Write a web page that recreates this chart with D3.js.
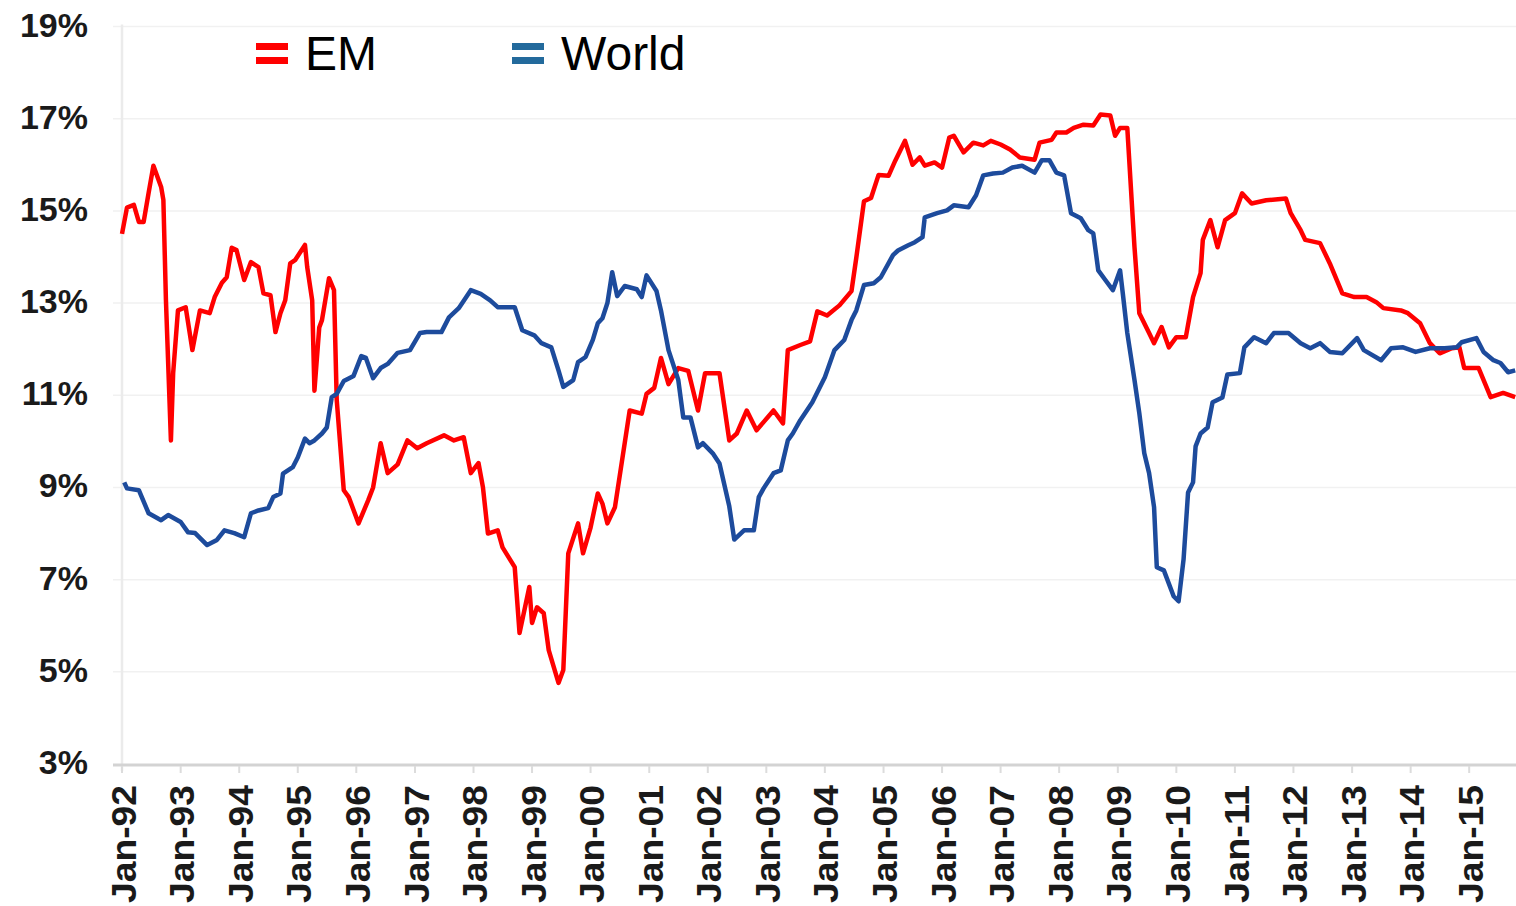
<!DOCTYPE html>
<html>
<head>
<meta charset="utf-8">
<script src="https://cdn.jsdelivr.net/npm/d3@7"></script>
<style>
  html, body { margin: 0; padding: 0; background: #fff; }
  svg { display: block; font-family: "Liberation Sans", Arial, sans-serif; }
</style>
</head>
<body>
<svg id="chart" width="1516" height="906"></svg>
<script>
// EM series (one line per year)
const emDates = [
    "1992-01-01", "1992-02-01", "1992-03-15", "1992-04-15", "1992-05-15", "1992-06-15", "1992-07-15", "1992-09-01", "1992-09-15", "1992-10-01", "1992-11-01", "1992-11-15", "1992-12-15",
    "1993-02-01", "1993-03-15", "1993-05-01", "1993-07-01", "1993-08-01", "1993-09-15", "1993-10-15", "1993-11-15", "1993-12-15",
    "1994-02-01", "1994-03-15", "1994-05-01", "1994-06-01", "1994-07-15", "1994-08-15", "1994-09-15", "1994-10-15", "1994-11-15", "1994-12-15",
    "1995-02-15", "1995-03-01", "1995-04-01", "1995-04-15", "1995-05-15", "1995-06-01", "1995-07-15", "1995-08-15", "1995-09-01", "1995-10-15", "1995-11-15",
    "1996-01-15", "1996-03-15", "1996-04-15", "1996-06-01", "1996-07-15", "1996-09-15", "1996-11-15",
    "1997-01-15", "1997-03-15", "1997-07-01", "1997-09-01", "1997-11-01", "1997-12-15",
    "1998-02-01", "1998-03-01", "1998-04-01", "1998-06-01", "1998-07-01", "1998-09-15", "1998-10-15", "1998-12-15",
    "1999-01-01", "1999-02-01", "1999-03-15", "1999-04-15", "1999-06-15", "1999-07-15", "1999-08-15", "1999-10-15", "1999-11-15",
    "2000-01-01", "2000-02-15", "2000-03-15", "2000-04-15", "2000-06-01", "2000-09-01", "2000-11-15", "2000-12-15",
    "2001-02-01", "2001-03-15", "2001-05-01", "2001-07-01", "2001-09-01", "2001-11-01", "2001-12-15",
    "2002-03-15", "2002-05-15", "2002-07-01", "2002-09-01", "2002-11-01",
    "2003-02-15", "2003-04-15", "2003-05-15", "2003-08-01", "2003-10-01", "2003-11-15",
    "2004-01-15", "2004-04-01", "2004-06-15", "2004-07-15", "2004-09-01", "2004-10-15", "2004-12-01",
    "2005-02-01", "2005-03-15", "2005-05-15", "2005-07-01", "2005-08-15", "2005-09-15", "2005-11-15",
    "2006-01-01", "2006-02-15", "2006-03-15", "2006-05-15", "2006-07-15", "2006-09-15", "2006-11-01",
    "2007-01-01", "2007-03-01", "2007-05-01", "2007-08-01", "2007-09-01", "2007-11-15", "2007-12-15",
    "2008-02-15", "2008-04-01", "2008-06-01", "2008-08-01", "2008-09-15", "2008-11-15", "2008-12-15",
    "2009-01-15", "2009-03-01", "2009-04-15", "2009-05-15", "2009-07-15", "2009-08-15", "2009-10-01", "2009-11-15",
    "2010-01-01", "2010-03-01", "2010-04-15", "2010-06-01", "2010-06-15", "2010-08-01", "2010-09-15", "2010-11-01",
    "2011-01-01", "2011-02-15", "2011-04-15", "2011-07-15", "2011-11-15", "2011-12-15",
    "2012-02-15", "2012-03-15", "2012-06-15", "2012-08-15", "2012-11-01",
    "2013-01-15", "2013-04-01", "2013-06-01", "2013-07-15", "2013-11-01", "2013-12-15",
    "2014-03-01", "2014-05-01", "2014-07-01", "2014-09-15", "2014-11-01", "2014-12-01",
    "2015-03-01", "2015-05-15", "2015-08-01", "2015-10-15"
];
const emValues = [
    14.5, 15.07, 15.13, 14.76, 14.76, 15.39, 15.98, 15.52, 15.24, 13.06, 10.02, 11.48, 12.84,
    12.91, 11.98, 12.84, 12.78, 13.13, 13.44, 13.56, 14.2, 14.15,
    13.5, 13.89, 13.78, 13.21, 13.17, 12.37, 12.78, 13.06, 13.86, 13.93,
    14.26, 13.78, 13.06, 11.1, 12.47, 12.63, 13.54, 13.28, 10.9, 8.94, 8.79,
    8.22, 8.72, 9.0, 9.96, 9.31, 9.5, 10.02,
    9.85, 9.96, 10.13, 10.02, 10.09, 9.31,
    9.53, 9.0, 8.0, 8.07, 7.7, 7.27, 5.84, 6.84,
    6.06, 6.4, 6.27, 5.47, 4.76, 5.04, 7.57, 8.22, 7.57,
    8.13, 8.87, 8.65, 8.22, 8.57, 10.67, 10.6, 11.03,
    11.16, 11.81, 11.24, 11.59, 11.53, 10.67, 11.48,
    11.48, 10.02, 10.17, 10.67, 10.24,
    10.67, 10.39, 11.98, 12.09, 12.17, 12.82,
    12.73, 12.95, 13.26, 13.98, 15.21, 15.28, 15.78,
    15.76, 16.09, 16.52, 16.0, 16.16, 15.98, 16.05,
    15.94, 16.59, 16.63, 16.27, 16.48, 16.42, 16.52,
    16.44, 16.33, 16.16, 16.11, 16.48, 16.54, 16.7,
    16.7, 16.8, 16.87, 16.85, 17.09, 17.07, 16.63,
    16.8, 16.8, 14.21, 12.78, 12.35, 12.13, 12.48, 12.04,
    12.26, 12.26, 13.13, 13.65, 14.37, 14.8, 14.21, 14.8,
    14.95, 15.38, 15.16, 15.23, 15.27, 14.95,
    14.58, 14.37, 14.3, 13.86, 13.21,
    13.13, 13.13, 13.02, 12.89, 12.84, 12.78,
    12.56, 12.13, 11.91, 12.02, 12.04, 11.59,
    11.59, 10.96, 11.05, 10.96
];

// World series
const worldDates = [
    "1992-01-15", "1992-02-01", "1992-04-15", "1992-06-15", "1992-09-01", "1992-10-15",
    "1993-01-01", "1993-02-15", "1993-04-01", "1993-06-15", "1993-08-15", "1993-10-01", "1993-12-01",
    "1994-02-01", "1994-03-15", "1994-05-01", "1994-07-01", "1994-08-01", "1994-09-15", "1994-10-01", "1994-12-01",
    "1995-01-01", "1995-02-15", "1995-03-15", "1995-04-15", "1995-06-01", "1995-07-01", "1995-08-01", "1995-09-01", "1995-10-15", "1995-12-15",
    "1996-02-01", "1996-03-01", "1996-04-15", "1996-06-01", "1996-07-15", "1996-09-15", "1996-12-01",
    "1997-02-01", "1997-03-15", "1997-06-15", "1997-08-01", "1997-10-01", "1997-12-15",
    "1998-02-15", "1998-04-15", "1998-06-01", "1998-09-15", "1998-11-01",
    "1999-01-15", "1999-03-01", "1999-05-01", "1999-06-15", "1999-07-15", "1999-09-15", "1999-10-15", "1999-12-01",
    "2000-01-15", "2000-02-15", "2000-03-15", "2000-04-15", "2000-05-15", "2000-06-15", "2000-08-01", "2000-10-15", "2000-11-15", "2000-12-15",
    "2001-02-15", "2001-03-15", "2001-05-01", "2001-07-01", "2001-08-01", "2001-09-15", "2001-11-01", "2001-12-01",
    "2002-02-01", "2002-03-15", "2002-05-15", "2002-06-15", "2002-08-15", "2002-10-15", "2002-11-15", "2002-12-15",
    "2003-02-15", "2003-04-01", "2003-05-15", "2003-06-15", "2003-08-01", "2003-10-15",
    "2004-01-01", "2004-03-01", "2004-05-01", "2004-06-15", "2004-07-15", "2004-09-01", "2004-11-01", "2004-12-15",
    "2005-03-01", "2005-04-01", "2005-06-01", "2005-07-15", "2005-09-01", "2005-09-15", "2005-12-01",
    "2006-02-01", "2006-03-15", "2006-06-15", "2006-08-01", "2006-09-15", "2006-11-15",
    "2007-01-15", "2007-03-15", "2007-05-15", "2007-08-01", "2007-09-15", "2007-11-01", "2007-12-15",
    "2008-02-01", "2008-03-15", "2008-05-15", "2008-07-01", "2008-08-01", "2008-09-01", "2008-10-15", "2008-12-01",
    "2009-01-15", "2009-02-01", "2009-03-01", "2009-04-15", "2009-05-15", "2009-06-15", "2009-07-15", "2009-08-15", "2009-09-01", "2009-10-15", "2009-12-15",
    "2010-01-15", "2010-02-15", "2010-03-15", "2010-04-15", "2010-05-01", "2010-06-01", "2010-07-15", "2010-08-15", "2010-10-15", "2010-11-15",
    "2011-02-01", "2011-03-01", "2011-05-01", "2011-07-15", "2011-09-01", "2011-12-01",
    "2012-02-15", "2012-04-15", "2012-06-15", "2012-08-15", "2012-11-01",
    "2013-02-01", "2013-03-15", "2013-07-01", "2013-09-01", "2013-11-15",
    "2014-02-01", "2014-05-01", "2014-08-01", "2014-10-15", "2014-11-15",
    "2015-02-15", "2015-04-01", "2015-06-01", "2015-07-15", "2015-09-01", "2015-10-15"
];
const worldValues = [
    9.11, 8.98, 8.94, 8.44, 8.29, 8.4,
    8.25, 8.03, 8.01, 7.75, 7.86, 8.07, 8.01,
    7.92, 8.44, 8.5, 8.55, 8.79, 8.87, 9.3, 9.44,
    9.65, 10.06, 9.96, 10.02, 10.17, 10.3, 10.96, 11.03, 11.31, 11.42,
    11.85, 11.81, 11.37, 11.59, 11.68, 11.92, 11.98,
    12.35, 12.37, 12.37, 12.69, 12.89, 13.28,
    13.2, 13.06, 12.91, 12.91, 12.41,
    12.3, 12.13, 12.04, 11.54, 11.18, 11.33, 11.72, 11.83,
    12.2, 12.56, 12.67, 13.0, 13.67, 13.15, 13.37, 13.3, 13.13, 13.6,
    13.26, 12.84, 11.98, 11.33, 10.52, 10.52, 9.87, 9.96,
    9.74, 9.52, 8.59, 7.87, 8.07, 8.07, 8.79, 8.98,
    9.31, 9.37, 10.02, 10.17, 10.46, 10.85,
    11.39, 11.98, 12.2, 12.63, 12.84, 13.39, 13.43, 13.56,
    14.04, 14.14, 14.25, 14.32, 14.43, 14.86, 14.95,
    15.01, 15.12, 15.08, 15.34, 15.77, 15.81,
    15.83, 15.94, 15.98, 15.83, 16.1, 16.1, 15.83,
    15.77, 14.95, 14.84, 14.58, 14.51, 13.71, 13.5, 13.28,
    13.71, 13.21, 12.35, 11.33, 10.61, 9.74, 9.31, 8.57, 7.27, 7.2, 6.64,
    6.53, 7.44, 8.89, 9.11, 9.89, 10.17, 10.3, 10.85, 10.95, 11.45,
    11.48, 12.04, 12.26, 12.13, 12.35, 12.35,
    12.13, 12.02, 12.13, 11.94, 11.91,
    12.24, 11.98, 11.76, 12.02, 12.04,
    11.94, 12.02, 12.02, 12.04, 12.15,
    12.24, 11.94, 11.76, 11.7, 11.5, 11.54
];

const yTicks = [3, 5, 7, 9, 11, 13, 15, 17, 19];
const xStart = "1992-01-01";
const xEnd = "2015-10-20";
const legendItems = [
    { name: "EM", color: "#ff0000" },
    { name: "World", color: "#236a9c" }
];

const parse = d3.timeParse("%Y-%m-%d");
const em = emDates.map((d, i) => ({ date: parse(d), value: emValues[i] }));
const world = worldDates.map((d, i) => ({ date: parse(d), value: worldValues[i] }));

const svg = d3.select("#chart");
const plotLeft = 122, plotRight = 1516, plotTop = 26.5, plotBottom = 764;

const x = d3.scaleTime().domain([parse(xStart), parse(xEnd)]).range([plotLeft, plotRight]);
const y = d3.scaleLinear().domain([3, 19]).range([plotBottom, plotTop]);

// horizontal gridlines with little stubs on the left
svg.append("g").selectAll("line")
    .data(yTicks.filter(d => d > 3))
    .enter().append("line")
    .attr("x1", plotLeft - 9).attr("x2", plotRight)
    .attr("y1", d => y(d)).attr("y2", d => y(d))
    .attr("stroke", "#f1f1f1").attr("stroke-width", 1.5);

// y axis line
svg.append("line")
    .attr("x1", plotLeft).attr("x2", plotLeft)
    .attr("y1", plotTop - 2).attr("y2", plotBottom + 7)
    .attr("stroke", "#ebebeb").attr("stroke-width", 2.5);

// y labels
svg.append("g").selectAll("text")
    .data(yTicks)
    .enter().append("text")
    .attr("x", 88)
    .attr("y", d => y(d) + 10)
    .attr("text-anchor", "end")
    .attr("font-size", 34)
    .attr("font-weight", "bold")
    .attr("fill", "#1a1a1a")
    .text(d => d + "%");

// x axis
const xTicks = x.ticks(d3.timeYear.every(1));
svg.append("line")
    .attr("x1", plotLeft - 9).attr("x2", plotRight)
    .attr("y1", plotBottom + 1).attr("y2", plotBottom + 1)
    .attr("stroke", "#d3d3d3").attr("stroke-width", 3);

svg.append("g").selectAll("line")
    .data(xTicks)
    .enter().append("line")
    .attr("x1", d => x(d)).attr("x2", d => x(d))
    .attr("y1", plotBottom + 2).attr("y2", plotBottom + 9)
    .attr("stroke", "#dcdcdc").attr("stroke-width", 2);

const fmt = d3.timeFormat("%b-%y");
svg.append("g").selectAll("text")
    .data(xTicks)
    .enter().append("text")
    .attr("transform", d => `translate(${x(d) + 1},785) rotate(-90)`)
    .attr("dy", "0.36em")
    .attr("text-anchor", "end")
    .attr("font-size", 35)
    .attr("font-weight", "bold")
    .attr("textLength", 118)
    .attr("lengthAdjust", "spacingAndGlyphs")
    .attr("fill", "#1a1a1a")
    .text(d => fmt(d));

// lines
const line = d3.line()
    .x(d => x(d.date))
    .y(d => y(d.value));

svg.append("path")
    .datum(em)
    .attr("d", line)
    .attr("fill", "none")
    .attr("stroke", "#ff0000")
    .attr("stroke-width", 4.5)
    .attr("stroke-linejoin", "round");

svg.append("path")
    .datum(world)
    .attr("d", line)
    .attr("fill", "none")
    .attr("stroke", "#1d4b9c")
    .attr("stroke-width", 4.5)
    .attr("stroke-linejoin", "round");

// legend
const legendX = [256, 512];
const legend = svg.append("g").selectAll("g")
    .data(legendItems)
    .enter().append("g")
    .attr("transform", (d, i) => `translate(${legendX[i]},0)`);

legend.append("rect")
    .attr("x", 0).attr("y", 43).attr("width", 32).attr("height", 7)
    .attr("fill", d => d.color);
legend.append("rect")
    .attr("x", 0).attr("y", 57).attr("width", 32).attr("height", 7)
    .attr("fill", d => d.color);
legend.append("text")
    .attr("x", 49).attr("y", 70)
    .attr("font-size", 48)
    .attr("fill", "#000")
    .text(d => d.name);
</script>
</body>
</html>
